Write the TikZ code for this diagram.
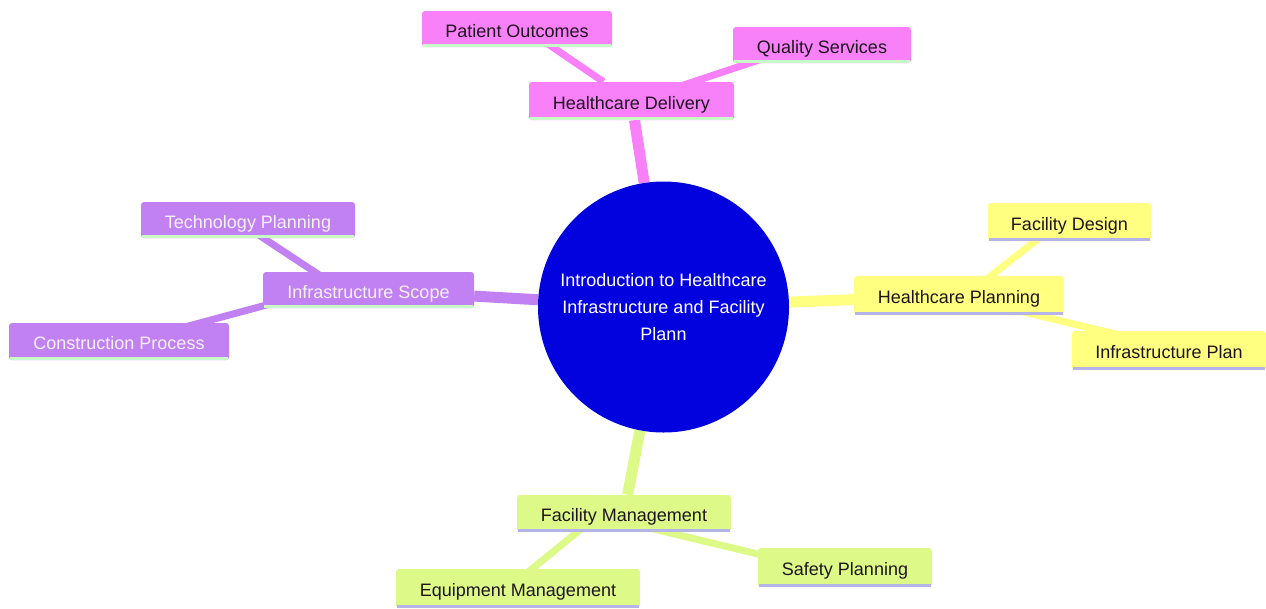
\documentclass[tikz,border=0pt]{standalone}
\usepackage{fontspec}
\setmainfont{Liberation Sans}
\usetikzlibrary{calc,backgrounds}
\definecolor{cpink}{RGB}{248,128,248}
\definecolor{cpurple}{RGB}{193,129,242}
\definecolor{cyellow}{RGB}{255,255,128}
\definecolor{cgreen}{RGB}{221,250,136}
\definecolor{cblue}{RGB}{2,2,222}
\definecolor{ulgreen}{RGB}{200,250,200}
\definecolor{ullav}{RGB}{180,180,232}
\definecolor{dtext}{RGB}{30,20,30}
\definecolor{ltext}{RGB}{245,240,250}
\begin{document}
\begin{tikzpicture}[x=1pt,y=-1pt,
  box/.style={rectangle, rounded corners=3pt, inner sep=0pt, text height=16pt, text depth=0pt,
              font=\fontsize{18}{22}\selectfont},
  pinkbox/.style={box, fill=cpink, text=dtext},
  purplebox/.style={box, fill=cpurple, text=ltext},
  yellowbox/.style={box, fill=cyellow, text=dtext},
  greenbox/.style={box, fill=cgreen, text=dtext},
  trunk/.style={line width=11pt},
  twig/.style={line width=7pt},
  uline/.style={line width=3pt}
]
\useasboundingbox (0,0) rectangle (1266,608);

% root
\node[circle, fill=cblue, minimum size=251pt, inner sep=0pt, text=white, align=center,
      font=\fontsize{18}{27}\selectfont] (c) at (663.5,307)
      {Introduction to Healthcare\\Infrastructure and Facility\\Plann};

% Healthcare Delivery branch
\node[pinkbox, minimum width=205pt, minimum height=38pt] (hd) at (631.5,101) {Healthcare Delivery};
\node[pinkbox, minimum width=190pt, minimum height=36pt] (po) at (517,29) {Patient Outcomes};
\node[pinkbox, minimum width=178pt, minimum height=36pt] (qs) at (822,45) {Quality Services};

% Infrastructure Scope branch
\node[purplebox, minimum width=211pt, minimum height=36pt] (is) at (368.5,290) {Infrastructure Scope};
\node[purplebox, minimum width=214pt, minimum height=36pt] (tp) at (248,220) {Technology Planning};
\node[purplebox, minimum width=220pt, minimum height=37pt] (cp) at (119,341.5) {Construction Process};

% Healthcare Planning branch
\node[yellowbox, minimum width=210pt, minimum height=39pt] (hp) at (959,295.5) {Healthcare Planning};
\node[yellowbox, minimum width=163pt, minimum height=38pt] (fd) at (1069.5,222) {Facility Design};
\node[yellowbox, minimum width=194pt, minimum height=39pt] (ip) at (1169,350.5) {Infrastructure Plan};

% Facility Management branch
\node[greenbox, minimum width=214pt, minimum height=37pt] (fm) at (624,513.5) {Facility Management};
\node[greenbox, minimum width=244pt, minimum height=39pt] (em) at (518,588.5) {Equipment Management};
\node[greenbox, minimum width=174pt, minimum height=39pt] (sp) at (845,567.5) {Safety Planning};

% underlines
\foreach \n/\c in {hd/ulgreen, po/ulgreen, qs/ulgreen, is/ulgreen, tp/ulgreen, cp/ulgreen,
                   hp/ullav, fd/ullav, ip/ullav, fm/ullav, em/ullav, sp/ullav}
  \draw[uline, \c] ($(\n.south west)+(1,-1.5)$) -- ($(\n.south east)+(-1,-1.5)$);

% connectors
\begin{scope}[on background layer]
  \draw[trunk, cpink] (c) -- (hd);
  \draw[trunk, cpurple] (c) -- (is);
  \draw[trunk, cyellow] (c) -- (hp);
  \draw[trunk, cgreen] (c) -- (fm);
  \draw[twig, cpink] (hd) -- ($(po)+(9,0)$);
  \draw[twig, cpink] ($(hd)+(4,0)$) -- ($(qs)+(-18,0)$);
  \draw[twig, cpurple] ($(is)+(-26.5,0)$) -- ($(tp)+(-12,0)$);
  \draw[twig, cpurple] ($(is)+(-46.5,0)$) -- ($(cp)+(12,0)$);
  \draw[twig, cyellow] ($(hp)+(7,0)$) -- ($(fd)+(-10,0)$);
  \draw[twig, cyellow] ($(hp)+(-4,0)$) -- ($(ip)+(15,0)$);
  \draw[twig, cgreen] ($(fm)+(-24,0)$) -- ($(em)+(-10,0)$);
  \draw[twig, cgreen] ($(fm)+(-35,0)$) -- ($(sp)+(-31,0)$);
\end{scope}
\end{tikzpicture}
\end{document}
